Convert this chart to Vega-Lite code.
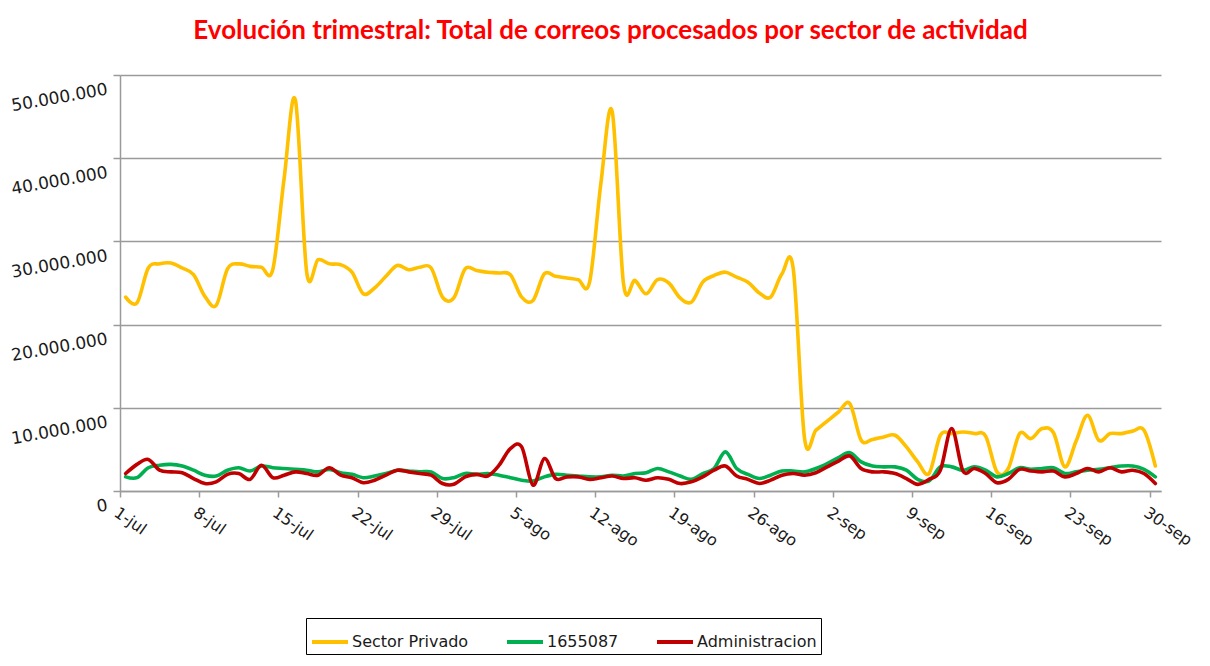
{
  "$schema": "https://vega.github.io/schema/vega-lite/v6.json",
  "width": 1041,
  "height": 416,
  "autosize": {"type": "none"},
  "padding": {"left": 120, "top": 75, "right": 49, "bottom": 175},
  "background": "white",
  "title": {
    "text": "Evolución trimestral: Total de correos procesados por sector de actividad",
    "font": "Lato",
    "fontSize": 26,
    "fontWeight": "bold",
    "color": "#FF0000",
    "anchor": "middle",
    "dx": -30,
    "offset": 30
  },
  "data": {
    "values": [
      {"fecha": "2013-07-01", "Sector Privado": 23300000, "1655087": 1700000, "Administracion": 2100000},
      {"fecha": "2013-07-02", "Sector Privado": 22600000, "1655087": 1600000, "Administracion": 3200000},
      {"fecha": "2013-07-03", "Sector Privado": 26800000, "1655087": 2800000, "Administracion": 3800000},
      {"fecha": "2013-07-04", "Sector Privado": 27300000, "1655087": 3100000, "Administracion": 2500000},
      {"fecha": "2013-07-05", "Sector Privado": 27400000, "1655087": 3200000, "Administracion": 2300000},
      {"fecha": "2013-07-06", "Sector Privado": 26800000, "1655087": 3000000, "Administracion": 2200000},
      {"fecha": "2013-07-07", "Sector Privado": 26000000, "1655087": 2500000, "Administracion": 1500000},
      {"fecha": "2013-07-08", "Sector Privado": 23400000, "1655087": 1900000, "Administracion": 900000},
      {"fecha": "2013-07-09", "Sector Privado": 22300000, "1655087": 1800000, "Administracion": 1100000},
      {"fecha": "2013-07-10", "Sector Privado": 26700000, "1655087": 2500000, "Administracion": 2000000},
      {"fecha": "2013-07-11", "Sector Privado": 27300000, "1655087": 2800000, "Administracion": 2100000},
      {"fecha": "2013-07-12", "Sector Privado": 27000000, "1655087": 2400000, "Administracion": 1400000},
      {"fecha": "2013-07-13", "Sector Privado": 26900000, "1655087": 3000000, "Administracion": 3100000},
      {"fecha": "2013-07-14", "Sector Privado": 26600000, "1655087": 2800000, "Administracion": 1600000},
      {"fecha": "2013-07-15", "Sector Privado": 37500000, "1655087": 2700000, "Administracion": 1900000},
      {"fecha": "2013-07-16", "Sector Privado": 47000000, "1655087": 2600000, "Administracion": 2300000},
      {"fecha": "2013-07-17", "Sector Privado": 26300000, "1655087": 2500000, "Administracion": 2100000},
      {"fecha": "2013-07-18", "Sector Privado": 27800000, "1655087": 2300000, "Administracion": 1900000},
      {"fecha": "2013-07-19", "Sector Privado": 27300000, "1655087": 2600000, "Administracion": 2800000},
      {"fecha": "2013-07-20", "Sector Privado": 27200000, "1655087": 2200000, "Administracion": 1900000},
      {"fecha": "2013-07-21", "Sector Privado": 26300000, "1655087": 2000000, "Administracion": 1600000},
      {"fecha": "2013-07-22", "Sector Privado": 23700000, "1655087": 1600000, "Administracion": 1000000},
      {"fecha": "2013-07-23", "Sector Privado": 24400000, "1655087": 1800000, "Administracion": 1300000},
      {"fecha": "2013-07-24", "Sector Privado": 25800000, "1655087": 2100000, "Administracion": 1900000},
      {"fecha": "2013-07-25", "Sector Privado": 27100000, "1655087": 2500000, "Administracion": 2500000},
      {"fecha": "2013-07-26", "Sector Privado": 26600000, "1655087": 2400000, "Administracion": 2300000},
      {"fecha": "2013-07-27", "Sector Privado": 26900000, "1655087": 2300000, "Administracion": 2100000},
      {"fecha": "2013-07-28", "Sector Privado": 26800000, "1655087": 2300000, "Administracion": 1900000},
      {"fecha": "2013-07-29", "Sector Privado": 23300000, "1655087": 1500000, "Administracion": 900000},
      {"fecha": "2013-07-30", "Sector Privado": 23200000, "1655087": 1600000, "Administracion": 800000},
      {"fecha": "2013-07-31", "Sector Privado": 26700000, "1655087": 2100000, "Administracion": 1700000},
      {"fecha": "2013-08-01", "Sector Privado": 26500000, "1655087": 2000000, "Administracion": 2000000},
      {"fecha": "2013-08-02", "Sector Privado": 26300000, "1655087": 2100000, "Administracion": 1800000},
      {"fecha": "2013-08-03", "Sector Privado": 26200000, "1655087": 1900000, "Administracion": 3100000},
      {"fecha": "2013-08-04", "Sector Privado": 26000000, "1655087": 1600000, "Administracion": 5100000},
      {"fecha": "2013-08-05", "Sector Privado": 23300000, "1655087": 1300000, "Administracion": 5300000},
      {"fecha": "2013-08-06", "Sector Privado": 22900000, "1655087": 1200000, "Administracion": 700000},
      {"fecha": "2013-08-07", "Sector Privado": 26100000, "1655087": 1700000, "Administracion": 3900000},
      {"fecha": "2013-08-08", "Sector Privado": 25800000, "1655087": 2000000, "Administracion": 1500000},
      {"fecha": "2013-08-09", "Sector Privado": 25600000, "1655087": 1900000, "Administracion": 1700000},
      {"fecha": "2013-08-10", "Sector Privado": 25400000, "1655087": 1800000, "Administracion": 1700000},
      {"fecha": "2013-08-11", "Sector Privado": 25100000, "1655087": 1700000, "Administracion": 1400000},
      {"fecha": "2013-08-12", "Sector Privado": 37000000, "1655087": 1700000, "Administracion": 1600000},
      {"fecha": "2013-08-13", "Sector Privado": 45600000, "1655087": 1900000, "Administracion": 1800000},
      {"fecha": "2013-08-14", "Sector Privado": 24900000, "1655087": 1800000, "Administracion": 1500000},
      {"fecha": "2013-08-15", "Sector Privado": 25300000, "1655087": 2100000, "Administracion": 1600000},
      {"fecha": "2013-08-16", "Sector Privado": 23700000, "1655087": 2200000, "Administracion": 1300000},
      {"fecha": "2013-08-17", "Sector Privado": 25400000, "1655087": 2700000, "Administracion": 1600000},
      {"fecha": "2013-08-18", "Sector Privado": 25000000, "1655087": 2300000, "Administracion": 1400000},
      {"fecha": "2013-08-19", "Sector Privado": 23200000, "1655087": 1800000, "Administracion": 900000},
      {"fecha": "2013-08-20", "Sector Privado": 22700000, "1655087": 1400000, "Administracion": 1100000},
      {"fecha": "2013-08-21", "Sector Privado": 25100000, "1655087": 2100000, "Administracion": 1700000},
      {"fecha": "2013-08-22", "Sector Privado": 25900000, "1655087": 2700000, "Administracion": 2500000},
      {"fecha": "2013-08-23", "Sector Privado": 26300000, "1655087": 4700000, "Administracion": 3000000},
      {"fecha": "2013-08-24", "Sector Privado": 25700000, "1655087": 2700000, "Administracion": 1800000},
      {"fecha": "2013-08-25", "Sector Privado": 25100000, "1655087": 2000000, "Administracion": 1400000},
      {"fecha": "2013-08-26", "Sector Privado": 23800000, "1655087": 1500000, "Administracion": 900000},
      {"fecha": "2013-08-27", "Sector Privado": 23300000, "1655087": 1900000, "Administracion": 1300000},
      {"fecha": "2013-08-28", "Sector Privado": 26100000, "1655087": 2400000, "Administracion": 1900000},
      {"fecha": "2013-08-29", "Sector Privado": 26700000, "1655087": 2400000, "Administracion": 2100000},
      {"fecha": "2013-08-30", "Sector Privado": 6300000, "1655087": 2300000, "Administracion": 1900000},
      {"fecha": "2013-08-31", "Sector Privado": 7300000, "1655087": 2700000, "Administracion": 2200000},
      {"fecha": "2013-09-01", "Sector Privado": 8400000, "1655087": 3300000, "Administracion": 2900000},
      {"fecha": "2013-09-02", "Sector Privado": 9500000, "1655087": 4000000, "Administracion": 3600000},
      {"fecha": "2013-09-03", "Sector Privado": 10500000, "1655087": 4600000, "Administracion": 4200000},
      {"fecha": "2013-09-04", "Sector Privado": 6100000, "1655087": 3500000, "Administracion": 2700000},
      {"fecha": "2013-09-05", "Sector Privado": 6200000, "1655087": 3000000, "Administracion": 2300000},
      {"fecha": "2013-09-06", "Sector Privado": 6500000, "1655087": 2900000, "Administracion": 2300000},
      {"fecha": "2013-09-07", "Sector Privado": 6700000, "1655087": 2900000, "Administracion": 2100000},
      {"fecha": "2013-09-08", "Sector Privado": 5300000, "1655087": 2500000, "Administracion": 1500000},
      {"fecha": "2013-09-09", "Sector Privado": 3500000, "1655087": 1400000, "Administracion": 800000},
      {"fecha": "2013-09-10", "Sector Privado": 2100000, "1655087": 1200000, "Administracion": 1400000},
      {"fecha": "2013-09-11", "Sector Privado": 6700000, "1655087": 2900000, "Administracion": 2500000},
      {"fecha": "2013-09-12", "Sector Privado": 6900000, "1655087": 2900000, "Administracion": 7500000},
      {"fecha": "2013-09-13", "Sector Privado": 7100000, "1655087": 2500000, "Administracion": 2400000},
      {"fecha": "2013-09-14", "Sector Privado": 6900000, "1655087": 2900000, "Administracion": 2700000},
      {"fecha": "2013-09-15", "Sector Privado": 6600000, "1655087": 2500000, "Administracion": 2100000},
      {"fecha": "2013-09-16", "Sector Privado": 2300000, "1655087": 1700000, "Administracion": 1000000},
      {"fecha": "2013-09-17", "Sector Privado": 2700000, "1655087": 2100000, "Administracion": 1400000},
      {"fecha": "2013-09-18", "Sector Privado": 6900000, "1655087": 2800000, "Administracion": 2600000},
      {"fecha": "2013-09-19", "Sector Privado": 6300000, "1655087": 2600000, "Administracion": 2400000},
      {"fecha": "2013-09-20", "Sector Privado": 7500000, "1655087": 2700000, "Administracion": 2300000},
      {"fecha": "2013-09-21", "Sector Privado": 7000000, "1655087": 2800000, "Administracion": 2400000},
      {"fecha": "2013-09-22", "Sector Privado": 2900000, "1655087": 2100000, "Administracion": 1700000},
      {"fecha": "2013-09-23", "Sector Privado": 6000000, "1655087": 2300000, "Administracion": 2100000},
      {"fecha": "2013-09-24", "Sector Privado": 9100000, "1655087": 2500000, "Administracion": 2700000},
      {"fecha": "2013-09-25", "Sector Privado": 6100000, "1655087": 2600000, "Administracion": 2300000},
      {"fecha": "2013-09-26", "Sector Privado": 6900000, "1655087": 2800000, "Administracion": 2800000},
      {"fecha": "2013-09-27", "Sector Privado": 6900000, "1655087": 3000000, "Administracion": 2300000},
      {"fecha": "2013-09-28", "Sector Privado": 7200000, "1655087": 3000000, "Administracion": 2500000},
      {"fecha": "2013-09-29", "Sector Privado": 7300000, "1655087": 2600000, "Administracion": 2100000},
      {"fecha": "2013-09-30", "Sector Privado": 3000000, "1655087": 1700000, "Administracion": 900000}
    ]
  },
  "transform": [
    {"fold": ["Sector Privado", "1655087", "Administracion"], "as": ["serie", "correos"]}
  ],
  "mark": {"type": "line", "interpolate": "cardinal", "tension": 0, "strokeWidth": 3.6, "strokeCap": "round", "strokeJoin": "round"},
  "encoding": {
    "x": {
      "field": "fecha",
      "type": "temporal",
      "timeUnit": "utcyearmonthdate",
      "bandPosition": 0.5,
      "scale": {
        "type": "utc",
        "domain": [
          {"year": 2013, "month": 7, "date": 1, "utc": true},
          {"year": 2013, "month": 10, "date": 1, "utc": true}
        ],
        "nice": false
      },
      "axis": {
        "title": null,
        "grid": false,
        "values": [
          {"year": 2013, "month": 7, "date": 1, "utc": true},
          {"year": 2013, "month": 7, "date": 8, "utc": true},
          {"year": 2013, "month": 7, "date": 15, "utc": true},
          {"year": 2013, "month": 7, "date": 22, "utc": true},
          {"year": 2013, "month": 7, "date": 29, "utc": true},
          {"year": 2013, "month": 8, "date": 5, "utc": true},
          {"year": 2013, "month": 8, "date": 12, "utc": true},
          {"year": 2013, "month": 8, "date": 19, "utc": true},
          {"year": 2013, "month": 8, "date": 26, "utc": true},
          {"year": 2013, "month": 9, "date": 2, "utc": true},
          {"year": 2013, "month": 9, "date": 9, "utc": true},
          {"year": 2013, "month": 9, "date": 16, "utc": true},
          {"year": 2013, "month": 9, "date": 23, "utc": true},
          {"year": 2013, "month": 9, "date": 30, "utc": true}
        ],
        "labelExpr": "utcFormat(datum.value, '%-d') + '-' + ['ene','feb','mar','abr','may','jun','jul','ago','sep','oct','nov','dic'][utcmonth(datum.value)]",
        "labelAngle": 35,
        "labelAlign": "left",
        "labelBaseline": "top",
        "labelFont": "DejaVu Sans",
        "labelFontSize": 16,
        "labelColor": "#1a1a1a",
        "labelPadding": 7,
        "labelOverlap": false,
        "labelBound": false,
        "labelFlush": false,
        "domainColor": "#9a9a9a",
        "domainWidth": 1.5,
        "tickColor": "#9a9a9a",
        "tickWidth": 1.5,
        "tickSize": 6
      }
    },
    "y": {
      "field": "correos",
      "type": "quantitative",
      "scale": {"domain": [0, 50000000], "nice": false},
      "axis": {
        "title": null,
        "values": [0, 10000000, 20000000, 30000000, 40000000, 50000000],
        "labelExpr": "replace(format(datum.value, ','), regexp(',', 'g'), '.')",
        "labelFont": "DejaVu Sans",
        "labelFontSize": 17,
        "labelColor": "#1a1a1a",
        "labelAngle": -10,
        "labelAlign": "right",
        "labelBaseline": "middle",
        "labelOffset": 14,
        "labelPadding": 6,
        "gridColor": "#9a9a9a",
        "gridWidth": 1.5,
        "domainColor": "#9a9a9a",
        "domainWidth": 1.5,
        "tickColor": "#9a9a9a",
        "tickWidth": 1.5,
        "tickSize": 7
      }
    },
    "color": {
      "field": "serie",
      "type": "nominal",
      "sort": ["Sector Privado", "1655087", "Administracion"],
      "scale": {
        "domain": ["Sector Privado", "1655087", "Administracion"],
        "range": ["#FFC000", "#00B050", "#C00000"]
      },
      "legend": {
        "title": null,
        "orient": "none",
        "direction": "horizontal",
        "legendX": 186,
        "legendY": 543,
        "symbolType": "stroke",
        "symbolStrokeWidth": 4,
        "symbolSize": 1296,
        "labelFont": "DejaVu Sans",
        "labelFontSize": 16,
        "labelColor": "#1a1a1a",
        "labelOffset": 2,
        "columnPadding": 30,
        "padding": 4,
        "strokeColor": "#000000",
        "fillColor": "white"
      }
    }
  },
  "config": {
    "view": {"stroke": null}
  }
}
